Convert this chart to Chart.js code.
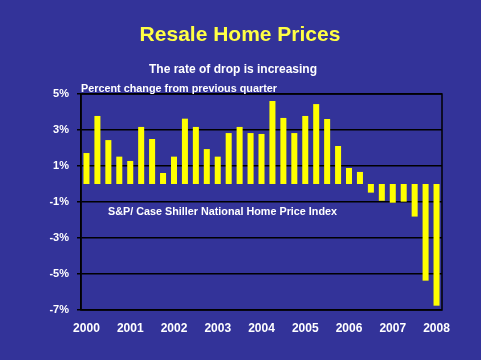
<!DOCTYPE html>
<html>
<head>
<meta charset="utf-8">
<script src="https://cdn.jsdelivr.net/npm/chart.js@4"></script>
<style>
  html, body { margin: 0; padding: 0; background: #333399; }
  #wrap { width: 481px; height: 360px; }
</style>
</head>
<body>
<div id="wrap"><canvas id="homeChart"></canvas></div>
<script>
// quarterly S&P/Case-Shiller change, 2000 Q1 .. 2008 Q1
const quarters = [
  '2000 Q1','2000 Q2','2000 Q3','2000 Q4',
  '2001 Q1','2001 Q2','2001 Q3','2001 Q4',
  '2002 Q1','2002 Q2','2002 Q3','2002 Q4',
  '2003 Q1','2003 Q2','2003 Q3','2003 Q4',
  '2004 Q1','2004 Q2','2004 Q3','2004 Q4',
  '2005 Q1','2005 Q2','2005 Q3','2005 Q4',
  '2006 Q1','2006 Q2','2006 Q3','2006 Q4',
  '2007 Q1','2007 Q2','2007 Q3','2007 Q4',
  '2008 Q1'
];
const pctChange = [
  1.72, 3.78, 2.44, 1.52,
  1.28, 3.17, 2.50, 0.61,
  1.52, 3.63, 3.17, 1.94,
  1.52, 2.83, 3.17, 2.83,
  2.78, 4.61, 3.67, 2.83,
  3.78, 4.44, 3.61, 2.11,
  0.89, 0.67, -0.48, -0.93,
  -1.04, -0.98, -1.81, -5.37,
  -6.76
];
const titleText = 'Resale Home Prices';
const subtitleText = 'The rate of drop is increasing';
const axisNote = 'Percent change from previous quarter';
const sourceNote = 'S&P/ Case Shiller National Home Price Index';

const navy = '#333399';

// background, frame and the slide texts
const slideDeco = {
  id: 'slideDeco',
  beforeDraw(chart) {
    const ctx = chart.ctx;
    ctx.save();
    ctx.fillStyle = navy;
    ctx.fillRect(0, 0, chart.width, chart.height);
    ctx.restore();
  },
  afterDraw(chart) {
    const ctx = chart.ctx;
    const a = chart.chartArea;
    ctx.save();
    ctx.strokeStyle = '#000';
    ctx.lineWidth = 1.5;
    ctx.strokeRect(a.left, a.top, a.right - a.left, a.bottom - a.top);

    ctx.textBaseline = 'middle';
    ctx.textAlign = 'center';
    ctx.fillStyle = '#ffff44';
    ctx.font = 'bold 21px "Liberation Sans", Arial, sans-serif';
    ctx.fillText(titleText, 240, 35);

    ctx.fillStyle = '#fff';
    ctx.font = 'bold 12px "Liberation Sans", Arial, sans-serif';
    ctx.fillText(subtitleText, 233, 70);

    ctx.textAlign = 'left';
    ctx.font = 'bold 11px "Liberation Sans", Arial, sans-serif';
    ctx.fillText(axisNote, 81, 89, 196);
    ctx.fillText(sourceNote, 108, 212, 229);
    ctx.restore();
  }
};

new Chart(document.getElementById('homeChart'), {
  type: 'bar',
  data: {
    labels: quarters,
    datasets: [{
      data: pctChange,
      backgroundColor: '#ffff00',
      borderWidth: 0,
      categoryPercentage: 1.0,
      barPercentage: 0.55
    }]
  },
  options: {
    responsive: true,
    maintainAspectRatio: false,
    animation: false,
    layout: { padding: { top: 94, right: 39, left: 0, bottom: 0 } },
    plugins: {
      legend: { display: false },
      tooltip: { enabled: false }
    },
    scales: {
      x: {
        grid: { display: false },
        border: { display: false },
        afterFit(scale) { scale.height = 50; },
        ticks: {
          autoSkip: false,
          maxRotation: 0,
          padding: 3,
          color: '#fff',
          font: { family: '"Liberation Sans", Arial, sans-serif', size: 12, weight: 'bold' },
          callback(v, i) {
            const q = quarters[i];
            return q.endsWith('Q1') ? q.slice(0, 4) : '';
          }
        }
      },
      y: {
        min: -7,
        max: 5,
        afterFit(scale) { scale.width = 81; },
        grid: { color: '#000', lineWidth: 1.5, drawTicks: true, tickLength: 4 },
        border: { display: true, color: '#000', width: 1.5 },
        ticks: {
          stepSize: 2,
          padding: 8,
          color: '#fff',
          font: { family: '"Liberation Sans", Arial, sans-serif', size: 11, weight: 'bold' },
          callback: v => v + '%'
        }
      }
    }
  },
  plugins: [slideDeco]
});
</script>
</body>
</html>
